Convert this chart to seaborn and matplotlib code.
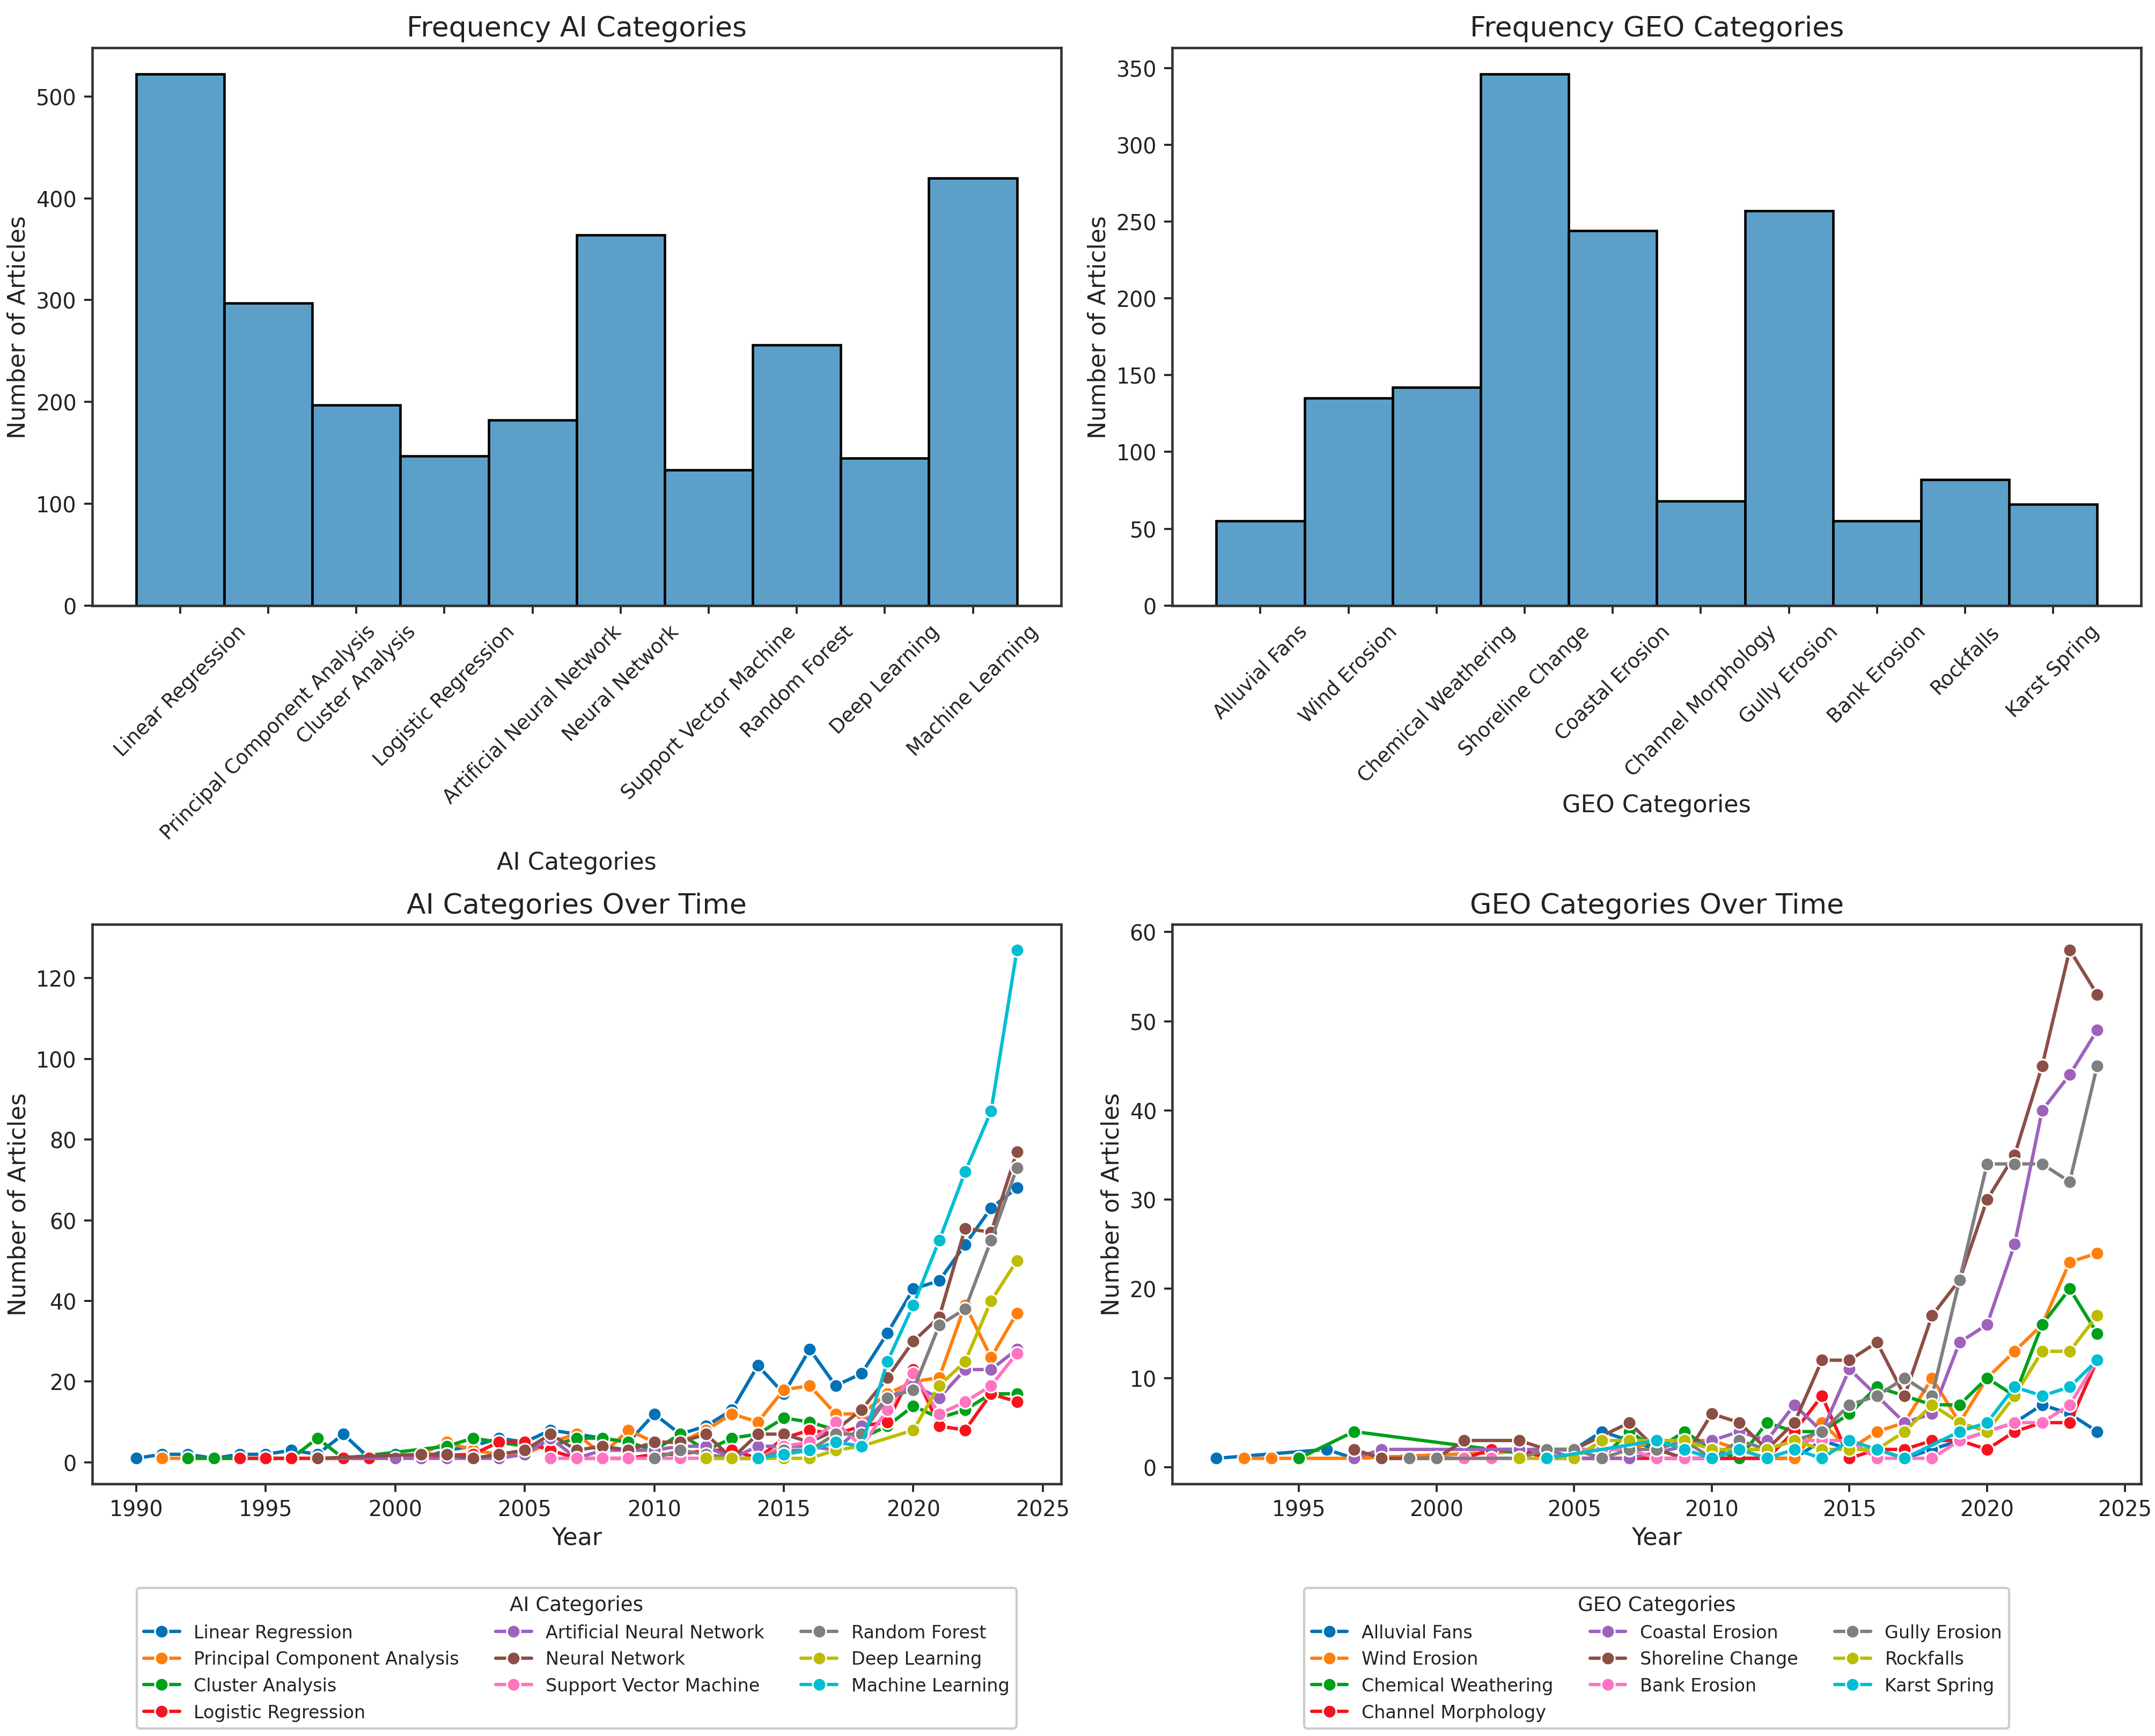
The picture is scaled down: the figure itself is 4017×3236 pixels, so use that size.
import numpy as np, pandas as pd, matplotlib
matplotlib.use("Agg")
import matplotlib.pyplot as plt
import seaborn as sns

N = np.nan
AI_CATS = ["Linear Regression","Principal Component Analysis","Cluster Analysis","Logistic Regression",
           "Artificial Neural Network","Neural Network","Support Vector Machine","Random Forest","Deep Learning","Machine Learning"]
AI_COUNTS = [522,297,197,147,182,364,133,256,145,420]
GEO_CATS = ["Alluvial Fans","Wind Erosion","Chemical Weathering","Shoreline Change","Coastal Erosion",
            "Channel Morphology","Gully Erosion","Bank Erosion","Rockfalls","Karst Spring"]
GEO_COUNTS = [55,135,142,346,244,68,257,55,82,66]
AI_ORDER = AI_CATS
GEO_ORDER = ["Alluvial Fans","Wind Erosion","Chemical Weathering","Channel Morphology","Coastal Erosion",
             "Shoreline Change","Bank Erosion","Gully Erosion","Rockfalls","Karst Spring"]
COLORS = ["#0072b5","#ff7f0e","#00a01a","#f5141e","#9e62bd","#8c4f45","#ff74c0","#7f7f7f","#bcbd00","#00bed2"]
YEARS = list(range(1990,2025))

#            1990                  1995               2000               2005               2010               2015               2020
AI_LR  = [1,2,2,1,2, 2,3,2,7,1, 2,1,3,4,6, 5,8,7,6,5, 12,7,9,13,24, 17,28,19,22,32, 43,45,54,63,68]
AI_PCA = [N,1,1,N,N, N,N,N,N,N, 1,2,5,3,2, 2,5,7,2,8, 5,5,8,12,10, 18,19,12,12,17, 20,21,39,26,37]
AI_CA  = [N,N,1,1,N, 1,1,6,1,N, N,N,4,6,5, 4,4,6,6,5, 3,7,3,6,7, 11,10,8,6,9, 14,11,13,17,17]
AI_LOG = [N,N,N,N,1, 1,1,1,1,1, N,N,N,2,5, 5,3,1,N,1, 2,2,3,3,1, 6,8,7,9,10, 23,9,8,17,15]
AI_ANN = [N,N,N,N,N, N,N,1,N,N, 1,1,1,1,1, 2,6,1,3,3, 3,4,4,1,4, 4,4,3,9,16, 19,16,23,23,28]
AI_NN  = [N,N,N,N,N, N,N,1,N,N, N,2,2,1,2, 3,7,3,4,3, 5,5,7,1,7, 7,5,8,13,21, 30,36,58,57,77]
AI_SVM = [N,N,N,N,N, N,N,N,N,N, N,N,N,N,N, N,1,1,1,1, 1,1,1,1,1, 4,5,10,4,13, 22,12,15,19,27]
AI_RF  = [N,N,N,N,N, N,N,N,N,N, N,N,N,N,N, N,N,N,N,N, 1,3,2,1,1, 3,3,7,7,16, 18,34,38,55,73]
AI_DL  = [N,N,N,N,N, N,N,N,N,N, N,N,N,N,N, N,N,N,N,N, N,N,1,1,1, 1,1,3,4,N, 8,19,25,40,50]
AI_ML  = [N,N,N,N,N, N,N,N,N,N, N,N,N,N,N, N,N,N,N,N, N,N,N,N,1, 2,3,5,4,25, 39,55,72,87,127]
AI_SERIES = [AI_LR,AI_PCA,AI_CA,AI_LOG,AI_ANN,AI_NN,AI_SVM,AI_RF,AI_DL,AI_ML]

GEO_AF = [N,N,1,N,N, N,2,1,N,N, N,N,N,N,N, 2,4,3,2,1, N,N,1,1,3, 2,2,1,2,3, 4,5,7,6,4]
GEO_WE = [N,N,N,1,1, N,N,1,N,N, N,N,N,N,N, 2,2,2,3,N, 3,2,1,1,5, 2,4,5,10,5, 10,13,16,23,24]
GEO_CW = [N,N,N,N,N, 1,N,4,N,N, N,N,2,N,N, 1,1,4,2,4, 2,1,5,4,4, 6,9,8,7,7, 10,8,16,20,15]
GEO_CM = [N,N,N,N,N, N,N,N,1,N, N,1,2,2,1, N,N,N,N,N, N,N,1,4,8, 1,2,2,3,3, 2,4,5,5,12]
GEO_CE = [N,N,N,N,N, N,N,1,2,N, N,N,N,2,2, 1,1,1,N,N, 3,4,3,7,4, 11,8,5,6,14, 16,25,40,44,49]
GEO_SC = [N,N,N,N,N, N,N,2,1,N, 1,3,N,3,2, 2,N,5,2,1, 6,5,2,5,12, 12,14,8,17,21, 30,35,45,58,53]
GEO_BE = [N,N,N,N,N, N,N,N,N,N, N,1,1,1,2, 2,2,2,1,1, 1,2,2,3,3, 3,1,1,1,3, 4,5,5,7,12]
GEO_GE = [N,N,N,N,N, N,N,N,N,1, 1,N,N,1,2, 2,1,2,2,3, 1,3,2,3,4, 7,8,10,8,21, 34,34,34,32,45]
GEO_RF = [N,N,N,N,N, N,N,N,N,N, N,N,N,1,1, 1,3,3,3,3, 2,2,2,3,2, 2,2,4,7,5, 4,8,13,13,17]
GEO_KS = [N,N,N,N,N, N,N,N,N,N, N,N,N,N,1, N,N,N,3,2, 1,2,1,2,1, 3,2,1,N,4, 5,9,8,9,12]
GEO_SERIES = [GEO_AF,GEO_WE,GEO_CW,GEO_CM,GEO_CE,GEO_SC,GEO_BE,GEO_GE,GEO_RF,GEO_KS]

W, H = 4017, 3237
sns.set_theme(style="white")
plt.rcParams.update({"font.family":"DejaVu Sans","axes.edgecolor":"#333333","axes.linewidth":1.1,
                     "xtick.bottom":True,"ytick.left":True,"xtick.color":"#222222","ytick.color":"#222222",
                     "text.color":"#222222","axes.labelcolor":"#222222","xtick.major.size":3.5,"ytick.major.size":3.5,
                     "xtick.major.width":0.9,"ytick.major.width":0.9})
fig = plt.figure(figsize=(W/300,H/300),dpi=300)
def box(l,t,r,b):
    s=4017/1568
    return fig.add_axes([l*s/W,1-b*s/H,(r-l)*s/W,(b-t)*s/H])
axs=[box(67,35,772,441),box(853,35,1558,441),box(67,673,772,1080),box(853,673,1558,1080)]
TS,LS,TK,CTK,LG=12.5,10.7,9.5,8.9,8.0

def hist(ax,cats,counts,title,xl,pad):
    d=pd.DataFrame({"c":pd.Categorical(cats,categories=cats,ordered=True),"n":counts})
    sns.histplot(data=d,x="c",weights="n",ax=ax,color="#3f8fc0",edgecolor="black",linewidth=1.1,alpha=.85)
    ax.set_title(title,fontsize=TS,pad=5.3)
    ax.set_xlabel(xl,fontsize=LS,labelpad=pad); ax.set_ylabel("Number of Articles",fontsize=LS,labelpad=2.6)
    ax.tick_params(axis="x",labelrotation=45,labelsize=CTK); ax.tick_params(axis="y",labelsize=TK)
    ax.margins(x=.05)
hist(axs[0],AI_CATS,AI_COUNTS,"Frequency AI Categories","AI Categories",3.4)
hist(axs[1],GEO_CATS,GEO_COUNTS,"Frequency GEO Categories","GEO Categories",3.4)

def lines(ax,series,order,title,leg,anchor):
    d=pd.concat([pd.DataFrame({"Year":YEARS,"n":v,"cat":c}) for v,c in zip(series,order)]).dropna()
    sns.lineplot(data=d,x="Year",y="n",hue="cat",hue_order=order,palette=COLORS,marker="o",
                 markersize=6,linewidth=1.5,ax=ax,errorbar=None)
    ax.set_title(title,fontsize=TS,pad=5)
    ax.set_xlabel("Year",fontsize=LS,labelpad=2.4); ax.set_ylabel("Number of Articles",fontsize=LS,labelpad=2.6)
    ax.tick_params(labelsize=TK)
    ax.legend(title=leg,ncol=3,loc="upper center",bbox_to_anchor=anchor,fontsize=LG,title_fontsize=LG+.95,
              frameon=True,edgecolor="#cccccc",framealpha=1,columnspacing=2.05,handlelength=2,labelspacing=.5,
              borderpad=.4,handletextpad=.8)
lines(axs[2],AI_SERIES,AI_ORDER,"AI Categories Over Time","AI Categories",(.5,-.17))
lines(axs[3],GEO_SERIES,GEO_ORDER,"GEO Categories Over Time","GEO Categories",(.5,-.17))
fig.savefig("out.png",dpi=300)
